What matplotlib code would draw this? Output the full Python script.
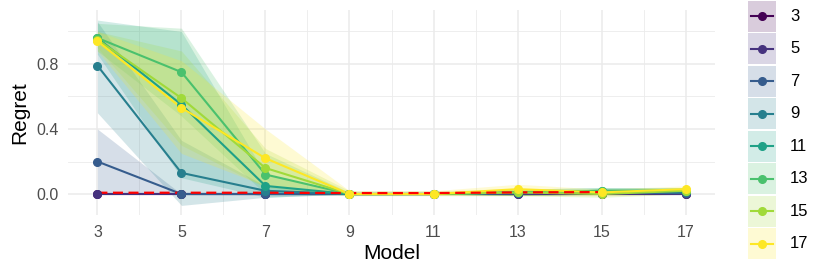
import numpy as np
import matplotlib
matplotlib.use("Agg")
import matplotlib.pyplot as plt
from matplotlib.patches import Rectangle

plt.rcParams['font.family'] = ['Liberation Sans', 'DejaVu Sans']

models = [3, 5, 7, 9, 11, 13, 15, 17]
groups = ['3', '5', '7', '9', '11', '13', '15', '17']

# mean regret per group
regret = {
    '3':  [0.00, 0.00, 0.00, 0.00, 0.00, 0.00, 0.00, 0.00],
    '5':  [0.00, 0.00, 0.00, 0.00, 0.00, 0.00, 0.00, 0.00],
    '7':  [0.20, 0.00, 0.00, 0.00, 0.00, 0.01, 0.01, 0.005],
    '9':  [0.79, 0.13, 0.02, 0.00, 0.00, 0.005, 0.01, 0.01],
    '11': [0.96, 0.55, 0.05, 0.00, 0.00, 0.01, 0.02, 0.02],
    '13': [0.96, 0.75, 0.12, 0.00, 0.00, 0.01, 0.02, 0.02],
    '15': [0.95, 0.59, 0.16, 0.00, 0.00, 0.01, 0.00, 0.02],
    '17': [0.94, 0.53, 0.22, 0.00, 0.00, 0.03, 0.01, 0.03],
}
lower = {
    '3':  [0.00, 0.00, 0.00, 0.00, 0.00, 0.00, 0.00, 0.00],
    '5':  [0.00, 0.00, 0.00, 0.00, 0.00, 0.00, 0.00, 0.00],
    '7':  [0.00, 0.00, 0.00, 0.00, 0.00, 0.00, 0.00, 0.00],
    '9':  [0.50, -0.07, -0.02, 0.00, 0.00, -0.01, 0.00, 0.00],
    '11': [0.86, 0.10, -0.02, 0.00, 0.00, -0.01, 0.00, 0.00],
    '13': [0.88, 0.48, 0.00, -0.01, 0.00, -0.01, 0.00, 0.00],
    '15': [0.90, 0.30, 0.04, -0.01, -0.01, -0.01, -0.02, 0.00],
    '17': [0.88, 0.25, 0.05, -0.01, -0.01, -0.01, -0.01, 0.00],
}
upper = {
    '3':  [0.00, 0.00, 0.00, 0.00, 0.00, 0.00, 0.00, 0.00],
    '5':  [0.00, 0.00, 0.00, 0.00, 0.00, 0.00, 0.00, 0.00],
    '7':  [0.40, 0.00, 0.00, 0.00, 0.00, 0.02, 0.02, 0.01],
    '9':  [1.06, 0.33, 0.05, 0.00, 0.00, 0.02, 0.02, 0.02],
    '11': [1.07, 1.00, 0.12, 0.01, 0.01, 0.03, 0.04, 0.04],
    '13': [1.05, 1.02, 0.25, 0.01, 0.01, 0.03, 0.04, 0.04],
    '15': [1.00, 0.88, 0.28, 0.02, 0.02, 0.03, 0.02, 0.04],
    '17': [1.00, 0.82, 0.40, 0.02, 0.02, 0.06, 0.03, 0.05],
}
ref_models = [3, 5, 7, 9, 11, 13, 15]
ref_regret = [0.008, 0.008, 0.008, 0.006, 0.006, 0.01, 0.012]

colors = plt.cm.viridis(np.linspace(0, 1, len(groups)))

fig = plt.figure(figsize=(8.3, 2.77), dpi=100)
ax = fig.add_axes([68/830, 1 - 215/277, (715-68)/830, (215-10)/277])

for g, c in zip(groups, colors):
    ax.fill_between(models, lower[g], upper[g], color=c, alpha=0.2, lw=0)
for g, c in zip(groups, colors):
    ax.plot(models, regret[g], color=c, lw=1.5, zorder=3)
ax.plot(ref_models, ref_regret, color='red', lw=1.6, dashes=(4.5, 2.5), zorder=4)
for g, c in zip(groups, colors):
    ax.plot(models, regret[g], 'o', color=c, ms=5.5, zorder=5)

ax.set_xlim(2.3, 17.7)
ax.set_ylim(-0.129, 1.132)
ax.set_xticks(models)
ax.set_xticks(np.arange(4, 17, 2), minor=True)
ax.set_yticks([0, 0.4, 0.8])
ax.set_yticks([0.2, 0.6, 1.0], minor=True)
ax.set_yticklabels(['0.0', '0.4', '0.8'])
ax.grid(which='major', color='#EBEBEB', lw=1.1)
ax.grid(which='minor', color='#EBEBEB', lw=0.6)
ax.set_axisbelow(True)
for s in ax.spines.values():
    s.set_visible(False)
ax.tick_params(which='both', length=0, labelsize=11.5, labelcolor='#4D4D4D')
ax.tick_params(axis='x', pad=7)
ax.tick_params(axis='y', pad=7)
ax.set_xlabel('Model', fontsize=15, labelpad=3)
ax.set_ylabel('Regret', fontsize=15, labelpad=5)

# legend
lax = fig.add_axes([748/830, 1 - 260/277, 28/830, 260/277])
lax.set_xlim(0, 1)
lax.set_ylim(len(groups), 0)
lax.axis('off')
for i, (g, c) in enumerate(zip(groups, colors)):
    lax.add_patch(Rectangle((0, i + 0.03), 1, 0.94, color=c, alpha=0.2, lw=0))
    lax.plot([0.1, 0.9], [i + 0.5, i + 0.5], color=c, lw=1.5)
    lax.plot([0.5], [i + 0.5], 'o', color=c, ms=5.5)
    lax.text(1.5, i + 0.5, g, fontsize=12, va='center', ha='left',
             transform=lax.transData, clip_on=False)

fig.savefig('out.png', dpi=100)
